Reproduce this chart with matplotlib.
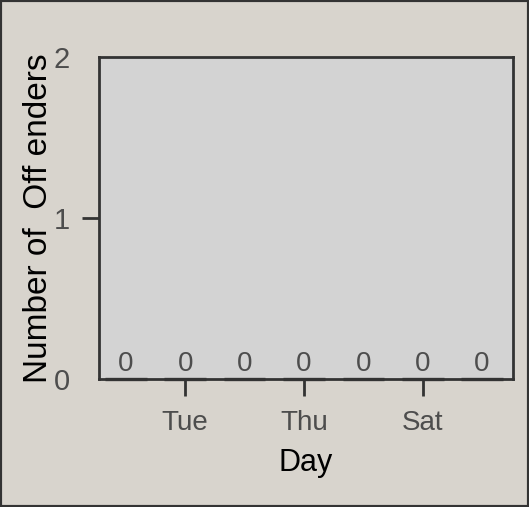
import matplotlib.pyplot as plt
from matplotlib.patches import Rectangle

days = ['Mon', 'Tue', 'Wed', 'Thu', 'Fri', 'Sat', 'Sun']
offenders = [0, 0, 0, 0, 0, 0, 0]
shown_ticks = ['Tue', 'Thu', 'Sat']
y_ticks = [0, 1, 2]

font = ['Liberation Sans', 'DejaVu Sans']
grey_txt = '#4d4d4d'
dark = '#333333'

fig = plt.figure(figsize=(5.29, 5.07), dpi=100, facecolor='#d8d4cd')
fig.patches.append(Rectangle((0, 0), 1, 1, transform=fig.transFigure, fill=False,
                             edgecolor=dark, linewidth=3))
ax = fig.add_axes([99 / 529, 1 - 379 / 507, 414 / 529, 322 / 507])
ax.set_facecolor('#d3d3d3')

x = list(range(len(days)))
bars = ax.bar(x, offenders, width=0.7, color=dark, edgecolor=dark, linewidth=2.4, zorder=3)
for b in bars:
    b.set_clip_on(False)
for xi, v in zip(x, offenders):
    ax.annotate(str(v), (xi, 0), xytext=(0, 5.5), textcoords='offset points',
                ha='center', va='baseline', fontsize=20, color=grey_txt, family=font)

ax.set_xlim(-0.45, 6.52)
ax.set_ylim(0, 2)
ax.set_xticks([days.index(d) for d in shown_ticks])
ax.set_xticklabels(shown_ticks, family=font, fontsize=20, color=grey_txt)
ax.set_yticks(y_ticks)
ax.set_yticklabels([str(t) for t in y_ticks], family=font, fontsize=21, color=grey_txt)
ax.tick_params(axis='both', length=12, width=2, color=dark)
ax.tick_params(axis='x', pad=10)
ax.tick_params(axis='y', pad=9)
yt = ax.yaxis.get_major_ticks()
yt[0].tick1line.set_visible(False)
yt[-1].tick1line.set_visible(False)

for s in ax.spines.values():
    s.set_color(dark)
    s.set_linewidth(2)

ax.set_xlabel('Day', family=font, fontsize=22, color='black', labelpad=9)
ax.set_ylabel('Number of  Off enders', family=font, fontsize=24, color='black', labelpad=0)

fig.savefig('out.png', dpi=100, facecolor=fig.get_facecolor())
